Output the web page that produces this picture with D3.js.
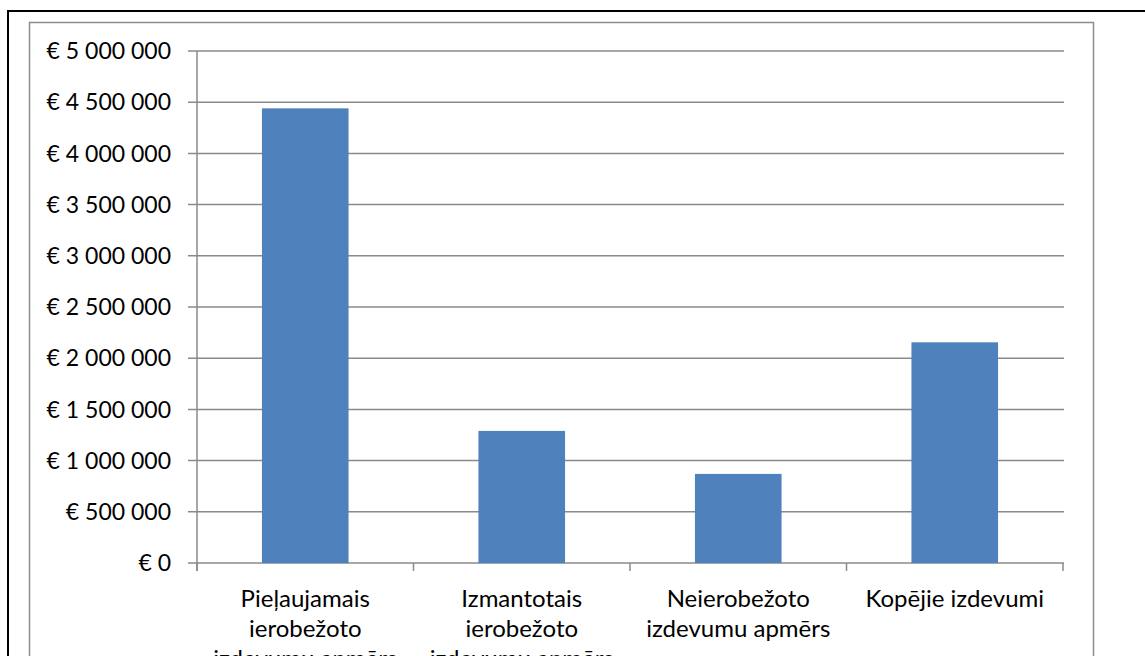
<!DOCTYPE html>
<html>
<head>
<meta charset="utf-8">
<script src="https://cdn.jsdelivr.net/npm/d3@7"></script>
<style>
  body { margin: 0; background: #fff; overflow: hidden; }
  text { font-family: Lato, "Open Sans", sans-serif; fill: #000; }
</style>
</head>
<body>
<div id="chart"></div>
<script>
// chart data
var categories = [
    ["Pieļaujamais", "ierobežoto", "izdevumu apmērs"],
    ["Izmantotais", "ierobežoto", "izdevumu apmērs"],
    ["Neierobežoto", "izdevumu apmērs"],
    ["Kopējie izdevumi"]
];
var values = [4440000, 1290000, 870000, 2155000];
var yTicks = [0, 500000, 1000000, 1500000, 2000000, 2500000, 3000000, 3500000, 4000000, 4500000, 5000000];

function init() {
    var w = 1145;
    var h = 656;
    var left = 197, right = 1063, top = 51, bottom = 563;

    var svg = d3.select("#chart")
        .append("svg")
        .attr("width", w)
        .attr("height", h);

    // outer frame (black) and chart frame (gray)
    svg.append("path")
        .attr("d", "M8," + h + " V11 H" + w)
        .attr("fill", "none")
        .attr("stroke", "#000")
        .attr("stroke-width", 2);

    svg.append("rect")
        .attr("x", 29.5).attr("y", 22.5)
        .attr("width", 1064).attr("height", 700)
        .attr("fill", "none")
        .attr("stroke", "#8c8c8c")
        .attr("stroke-width", 1.5);

    var xScale = d3.scaleBand()
        .domain(d3.range(categories.length))
        .range([left, right])
        .paddingInner(0.6)
        .paddingOuter(0.3);

    var yScale = d3.scaleLinear()
        .domain([0, 5000000])
        .range([bottom, top]);

    var fmt = function (d) {
        return "€ " + d3.format(",")(d).replace(/,/g, " ");
    };

    // gridlines
    svg.append("g")
        .selectAll("line")
        .data(yTicks)
        .enter()
        .append("line")
        .attr("x1", left - 9)
        .attr("x2", right + 1)
        .attr("y1", function (d) { return yScale(d); })
        .attr("y2", function (d) { return yScale(d); })
        .attr("stroke", "#8a8a8a")
        .attr("stroke-width", 1.5);

    // y labels
    svg.append("g")
        .selectAll("text")
        .data(yTicks)
        .enter()
        .append("text")
        .attr("x", 171)
        .attr("y", function (d) { return yScale(d); })
        .attr("dy", "0.36em")
        .attr("text-anchor", "end")
        .style("font-size", "23px")
        .text(fmt);

    // bars
    svg.append("g")
        .selectAll("rect")
        .data(values)
        .enter()
        .append("rect")
        .attr("x", function (d, i) { return xScale(i); })
        .attr("y", function (d) { return yScale(d); })
        .attr("width", xScale.bandwidth())
        .attr("height", function (d) { return bottom - yScale(d); })
        .attr("fill", "#4f81bd");

    // axes lines
    svg.append("line")
        .attr("x1", left).attr("x2", left)
        .attr("y1", top).attr("y2", bottom + 8)
        .attr("stroke", "#8a8a8a").attr("stroke-width", 1.5);

    var step = (right - left) / categories.length;
    svg.append("g")
        .selectAll("line")
        .data(d3.range(categories.length + 1))
        .enter()
        .append("line")
        .attr("x1", function (d) { return left + d * step; })
        .attr("x2", function (d) { return left + d * step; })
        .attr("y1", bottom)
        .attr("y2", bottom + 8)
        .attr("stroke", "#8a8a8a").attr("stroke-width", 1.5);

    // category labels
    var labels = svg.append("g")
        .selectAll("text")
        .data(categories)
        .enter()
        .append("text")
        .attr("text-anchor", "middle")
        .style("font-size", "24px")
        .attr("x", function (d, i) { return xScale(i) + xScale.bandwidth() / 2; });

    labels.selectAll("tspan")
        .data(function (d) { return d; })
        .enter()
        .append("tspan")
        .attr("x", function () { return d3.select(this.parentNode).attr("x"); })
        .attr("y", function (d, j) { return 607 + j * 30; })
        .text(function (d) { return d; });
}

window.onload = init;
</script>
</body>
</html>
